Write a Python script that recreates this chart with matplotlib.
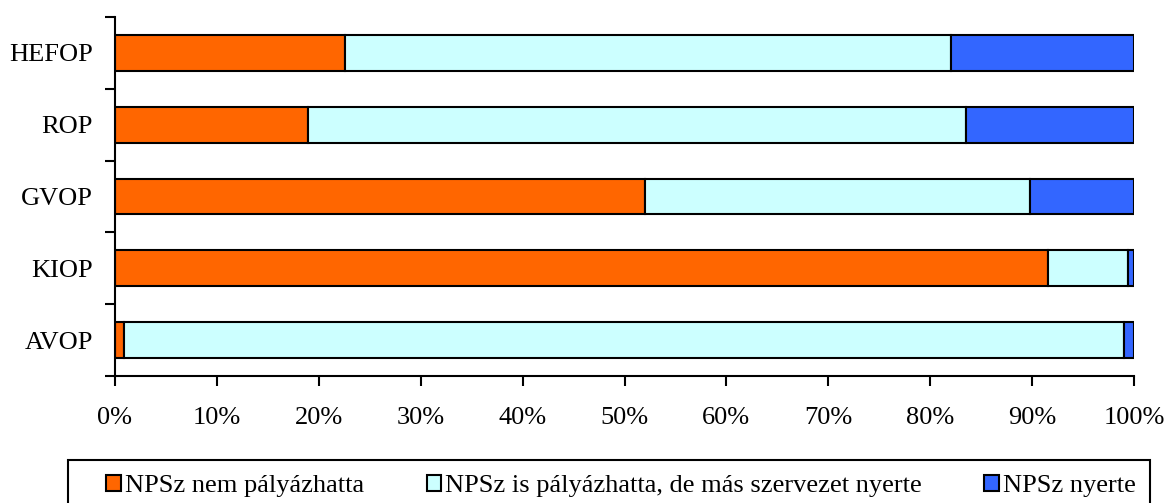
import matplotlib.pyplot as plt
from matplotlib.patches import Rectangle
from matplotlib.ticker import FixedLocator, PercentFormatter

programs = ["AVOP", "KIOP", "GVOP", "ROP", "HEFOP"]
nem_palyazhatta = [0.9, 91.6, 52.0, 18.9, 22.6]
mas_nyerte = [98.1, 7.8, 37.8, 64.6, 59.4]
npsz_nyerte = [1.0, 0.6, 10.2, 16.5, 18.0]

series_labels = ["NPSz nem pályázhatta",
                 "NPSz is pályázhatta, de más szervezet nyerte",
                 "NPSz nyerte"]
colors = ["#FF6600", "#CCFFFF", "#3366FF"]

plt.rcParams['font.family'] = ['Liberation Serif', 'DejaVu Serif']
plt.rcParams['font.size'] = 19

fig = plt.figure(figsize=(11.68, 5.03), dpi=100)
ax = fig.add_axes([115 / 1168, 1 - 376 / 503, 1019 / 1168, 359 / 503])

left = [0] * len(programs)
for vals, lab, col in zip([nem_palyazhatta, mas_nyerte, npsz_nyerte], series_labels, colors):
    ax.barh(range(len(programs)), vals, left=left, height=0.5, color=col,
            edgecolor="black", linewidth=1.5, label=lab)
    left = [a + b for a, b in zip(left, vals)]

ax.set_xlim(0, 100)
ax.set_ylim(-0.5, len(programs) - 0.5)
ax.set_xticks(range(0, 101, 10))
ax.xaxis.set_major_formatter(PercentFormatter(decimals=0))
ax.set_yticks(range(len(programs)))
ax.set_yticklabels(programs)
ax.yaxis.set_minor_locator(FixedLocator([i - 0.5 for i in range(len(programs) + 1)]))

ax.tick_params(axis="y", which="major", length=0, pad=16)
ax.tick_params(axis="y", which="minor", length=7, width=1.5, direction="out")
ax.tick_params(axis="x", length=7, width=1.5, direction="out", pad=15)

for s in ["top", "right"]:
    ax.spines[s].set_visible(False)
for s in ["left", "bottom"]:
    ax.spines[s].set_linewidth(1.5)

# legend box (bottom edge runs off the image, as in the original)
fig.patches.append(Rectangle((68 / 1168, -0.1), 1082 / 1168, 0.1 + 43 / 503,
                             transform=fig.transFigure, fill=False,
                             edgecolor="black", linewidth=1.5))
fig.legend(loc="upper left", bbox_to_anchor=(93 / 1168, 1 - 462 / 503 - 0.2, 1056 / 1168, 0.2),
           mode="expand", ncol=3, borderaxespad=0, frameon=False,
           handlelength=0.55, handleheight=0.55, handletextpad=0.15,
           borderpad=0.5, fontsize=19)

fig.savefig("out.png", dpi=100)
